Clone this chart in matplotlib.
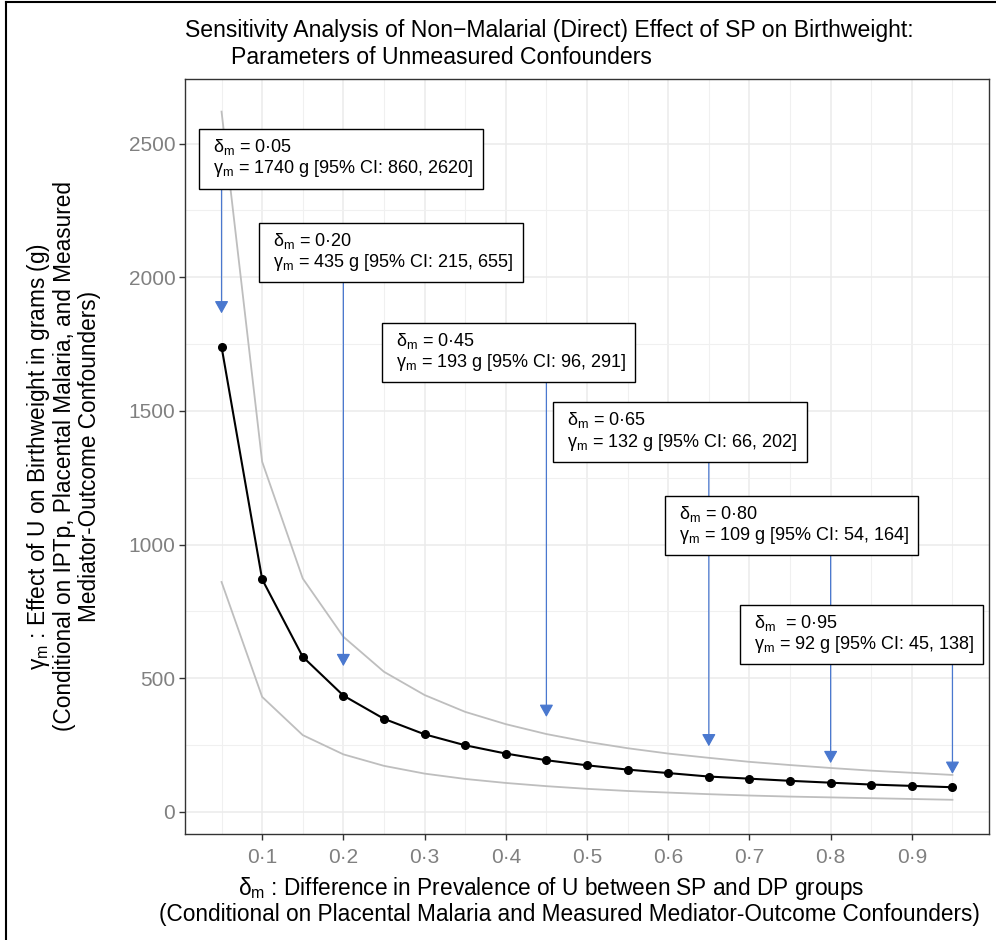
import matplotlib
matplotlib.use("Agg")
import matplotlib.pyplot as plt
from matplotlib.lines import Line2D

plt.rcParams['font.family'] = ['Liberation Sans', 'DejaVu Sans']
plt.rcParams['mathtext.fontset'] = 'custom'
plt.rcParams['mathtext.rm'] = 'Liberation Sans'
plt.rcParams['mathtext.it'] = 'Liberation Sans:italic'
plt.rcParams['mathtext.bf'] = 'Liberation Sans:bold'

# data
delta = [0.05, 0.10, 0.15, 0.20, 0.25, 0.30, 0.35, 0.40, 0.45, 0.50,
         0.55, 0.60, 0.65, 0.70, 0.75, 0.80, 0.85, 0.90, 0.95]
gamma = [1740, 870, 580, 435, 348, 290, 249, 218, 193, 174,
         158, 145, 132, 124, 116, 109, 102, 97, 92]
gamma_lo = [860, 430, 287, 215, 172, 143, 123, 108, 96, 86,
            78, 72, 66, 61, 57, 54, 51, 48, 45]
gamma_hi = [2620, 1310, 873, 655, 524, 437, 374, 328, 291, 262,
            238, 218, 202, 187, 175, 164, 154, 146, 138]

x_ticks = [0.1, 0.2, 0.3, 0.4, 0.5, 0.6, 0.7, 0.8, 0.9]
x_tick_labels = ['0·1', '0·2', '0·3', '0·4', '0·5', '0·6', '0·7', '0·8', '0·9']
x_minor = [0.05, 0.15, 0.25, 0.35, 0.45, 0.55, 0.65, 0.75, 0.85, 0.95]
y_ticks = [0, 500, 1000, 1500, 2000, 2500]
y_minor = [250, 750, 1250, 1750, 2250]

ann_delta = [0.05, 0.20, 0.45, 0.65, 0.80, 0.95]
ann_labels = [
    ' $\\mathrm{δ_m}$ = 0·05\n $\\mathrm{γ_m}$ = 1740 g [95% CI: 860, 2620]',
    ' $\\mathrm{δ_m}$ = 0·20\n $\\mathrm{γ_m}$ = 435 g [95% CI: 215, 655]',
    ' $\\mathrm{δ_m}$ = 0·45\n $\\mathrm{γ_m}$ = 193 g [95% CI: 96, 291]',
    ' $\\mathrm{δ_m}$ = 0·65\n $\\mathrm{γ_m}$ = 132 g [95% CI: 66, 202]',
    ' $\\mathrm{δ_m}$ = 0·80\n $\\mathrm{γ_m}$ = 109 g [95% CI: 54, 164]',
    ' $\\mathrm{δ_m}$  = 0·95\n $\\mathrm{γ_m}$ = 92 g [95% CI: 45, 138]',
]
# label anchor (left, middle) and arrow tips, in data units
ann_text_x = [0.0338, 0.1073, 0.2585, 0.4693, 0.6067, 0.6993]
ann_text_y = [2445, 2095, 1720, 1423, 1074, 664]
ann_arrow_end = [1865, 545, 355, 245, 182, 142]

fig = plt.figure(figsize=(9.96, 9.40), dpi=100)
ax = fig.add_axes([185 / 996, 1 - 834 / 940, (989 - 185) / 996, (834 - 79) / 940])

ax.plot(delta, gamma_hi, color='#BEBEBE', lw=1.3, zorder=2)
ax.plot(delta, gamma_lo, color='#BEBEBE', lw=1.3, zorder=2)
ax.plot(delta, gamma, color='black', lw=1.5, marker='o', ms=5.5, zorder=4)

arrow_blue = '#4A78CF'
for d, ty, tip in zip(ann_delta, ann_text_y, ann_arrow_end):
    ax.annotate('', xy=(d, tip), xytext=(d, ty),
                arrowprops=dict(arrowstyle='-|>,head_length=0.75,head_width=0.42',
                                color=arrow_blue, lw=0.9, mutation_scale=10,
                                shrinkA=0, shrinkB=0),
                zorder=3)

for tx, ty, lab in zip(ann_text_x, ann_text_y, ann_labels):
    ax.text(tx, ty, lab, fontsize=13, ha='left', va='center', linespacing=1.08,
            bbox=dict(boxstyle='square,pad=0.5', fc='white', ec='black', lw=1.0),
            zorder=5)

ax.set_xlim(0.005, 0.995)
ax.set_ylim(-83, 2742)
ax.set_xticks(x_ticks)
ax.set_xticklabels(x_tick_labels)
ax.set_xticks(x_minor, minor=True)
ax.set_yticks(y_ticks)
ax.set_yticks(y_minor, minor=True)
ax.tick_params(which='major', length=4, color='#333333', labelsize=15,
               labelcolor='#808080', width=1.0)
ax.tick_params(axis='x', pad=6)
ax.tick_params(axis='y', pad=3)
ax.tick_params(which='minor', length=0)
ax.grid(which='major', color='#EBEBEB', lw=1.1)
ax.grid(which='minor', color='#F0F0F0', lw=0.8)
ax.set_axisbelow(True)
for sp in ax.spines.values():
    sp.set_color('#333333')
    sp.set_linewidth(1.0)

# titles and axis labels
fig.text(185 / 996, 1 - 30 / 940,
         'Sensitivity Analysis of Non\u2212Malarial (Direct) Effect of SP on Birthweight:',
         fontsize=16.6, ha='left', va='center')
fig.text(231 / 996, 1 - 57 / 940, 'Parameters of Unmeasured Confounders',
         fontsize=16.6, ha='left', va='center')

fig.text(551 / 996, 1 - 888 / 940,
         '$\\mathrm{δ_m}$ : Difference in Prevalence of U between SP and DP groups',
         fontsize=16.3, ha='center', va='center')
fig.text(569 / 996, 1 - 915 / 940,
         '(Conditional on Placental Malaria and Measured Mediator-Outcome Confounders)',
         fontsize=16.3, ha='center', va='center')

fig.text(63 / 996, 1 - 456 / 940,
         '$\\mathrm{γ_m}$ : Effect of U on Birthweight in grams (g)\n'
         '(Conditional on IPTp, Placental Malaria, and Measured\n'
         'Mediator-Outcome Confounders)',
         fontsize=16.3, rotation=90, ha='center', va='center',
         multialignment='center', linespacing=1.08)

# outer frame (left and top edges visible in the original)
fig.add_artist(Line2D([6 / 996, 6 / 996], [0, 1 - 2 / 940], transform=fig.transFigure,
                      color='black', lw=1.5))
fig.add_artist(Line2D([6 / 996, 1], [1 - 2 / 940, 1 - 2 / 940], transform=fig.transFigure,
                      color='black', lw=1.5))

fig.savefig('out.png', dpi=100)
